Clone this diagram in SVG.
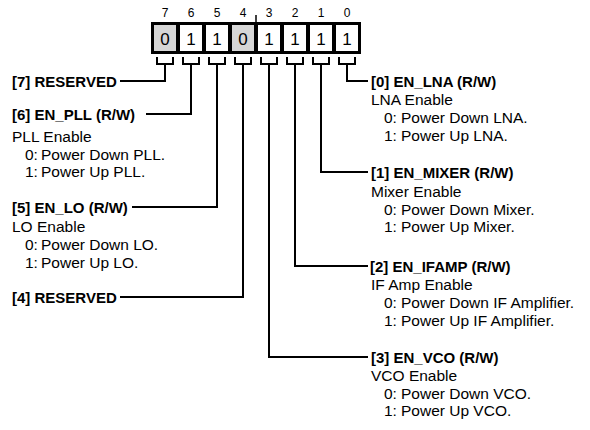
<svg xmlns="http://www.w3.org/2000/svg" width="590" height="430" viewBox="0 0 590 430">
<style>
text{font-family:"Liberation Sans",Arial,sans-serif;fill:#000}
.h{font-size:15px;font-weight:bold}
.b{font-size:15.5px}
.n{font-size:12px;text-anchor:middle}
.v{font-size:17px;text-anchor:middle}
.w{stroke:#000;stroke-width:2;fill:none}
.c{fill:#fff}
.g{fill:#d6d6d6}
</style>
<rect width="590" height="430" fill="#fff"/>
<g id="register">
<g id="bitnums">
<text class="n" x="165" y="17">7</text><text class="n" x="191" y="17">6</text><text class="n" x="217" y="17">5</text><text class="n" x="243" y="17">4</text>
<text class="n" x="269" y="17">3</text><text class="n" x="295" y="17">2</text><text class="n" x="321" y="17">1</text><text class="n" x="347" y="17">0</text>
</g>
<line x1="256" y1="15" x2="256" y2="23" stroke="#000" stroke-width="1.5"/>
<rect x="151" y="22" width="210" height="32" fill="#000"/>
<rect class="g" x="154" y="25" width="22" height="26"/>
<rect class="c" x="180" y="25" width="22" height="26"/>
<rect class="c" x="206" y="25" width="22" height="26"/>
<rect class="g" x="232" y="25" width="22" height="26"/>
<rect class="c" x="258" y="25" width="22" height="26"/>
<rect class="c" x="284" y="25" width="22" height="26"/>
<rect class="c" x="310" y="25" width="22" height="26"/>
<rect class="c" x="336" y="25" width="22" height="26"/>
<text class="v" x="165" y="44.5">0</text><text class="v" x="191" y="44.5">1</text><text class="v" x="217" y="44.5">1</text><text class="v" x="243" y="44.5">0</text>
<text class="v" x="269" y="44.5">1</text><text class="v" x="295" y="44.5">1</text><text class="v" x="321" y="44.5">1</text><text class="v" x="347" y="44.5">1</text>
</g>
<g id="connectors">
<path class="w" d="M157 57V64H173V57M183 57V64H199V57M209 57V64H225V57M235 57V64H251V57M261 57V64H277V57M287 57V64H303V57M313 57V64H329V57M339 57V64H355V57"/>
<path class="w" d="M165 64V81H120"/>
<path class="w" d="M191 64V114H146"/>
<path class="w" d="M217 64V207H132"/>
<path class="w" d="M243 64V297H120"/>
<path class="w" d="M347 64V81H368"/>
<path class="w" d="M321 64V172H368"/>
<path class="w" d="M295 64V266H368"/>
<path class="w" d="M269 64V357H368"/>
</g>
<g id="bit7"><text class="h" x="12" y="86.5">[7] RESERVED</text></g>
<g id="bit6">
<text class="h" x="12" y="119.5">[6] EN_PLL (R/W)</text>
<text class="b" x="12" y="142">PLL Enable</text>
<text class="b"><tspan x="25" y="160">0:</tspan><tspan x="41" y="160">Power Down PLL.</tspan></text>
<text class="b"><tspan x="25" y="177">1:</tspan><tspan x="41" y="177">Power Up PLL.</tspan></text>
</g>
<g id="bit5">
<text class="h" x="12" y="212.5">[5] EN_LO (R/W)</text>
<text class="b" x="12" y="232">LO Enable</text>
<text class="b"><tspan x="25" y="250">0:</tspan><tspan x="41" y="250">Power Down LO.</tspan></text>
<text class="b"><tspan x="25" y="268">1:</tspan><tspan x="41" y="268">Power Up LO.</tspan></text>
</g>
<g id="bit4"><text class="h" x="12" y="302.5">[4] RESERVED</text></g>
<g id="bit0">
<text class="h" x="371" y="86.5">[0] EN_LNA (R/W)</text>
<text class="b" x="371" y="105">LNA Enable</text>
<text class="b"><tspan x="384" y="123">0:</tspan><tspan x="401" y="123">Power Down LNA.</tspan></text>
<text class="b"><tspan x="384" y="141">1:</tspan><tspan x="401" y="141">Power Up LNA.</tspan></text>
</g>
<g id="bit1">
<text class="h" x="371" y="177.5">[1] EN_MIXER (R/W)</text>
<text class="b" x="371" y="197">Mixer Enable</text>
<text class="b"><tspan x="384" y="215">0:</tspan><tspan x="401" y="215">Power Down Mixer.</tspan></text>
<text class="b"><tspan x="384" y="232">1:</tspan><tspan x="401" y="232">Power Up Mixer.</tspan></text>
</g>
<g id="bit2">
<text class="h" x="370" y="271.5">[2] EN_IFAMP (R/W)</text>
<text class="b" x="371" y="290">IF Amp Enable</text>
<text class="b"><tspan x="384" y="308">0:</tspan><tspan x="401" y="308">Power Down IF Amplifier.</tspan></text>
<text class="b"><tspan x="384" y="326">1:</tspan><tspan x="401" y="326">Power Up IF Amplifier.</tspan></text>
</g>
<g id="bit3">
<text class="h" x="371" y="362.5">[3] EN_VCO (R/W)</text>
<text class="b" x="371" y="381">VCO Enable</text>
<text class="b"><tspan x="384" y="399">0:</tspan><tspan x="401" y="399">Power Down VCO.</tspan></text>
<text class="b"><tspan x="384" y="416">1:</tspan><tspan x="401" y="416">Power Up VCO.</tspan></text>
</g>
</svg>
